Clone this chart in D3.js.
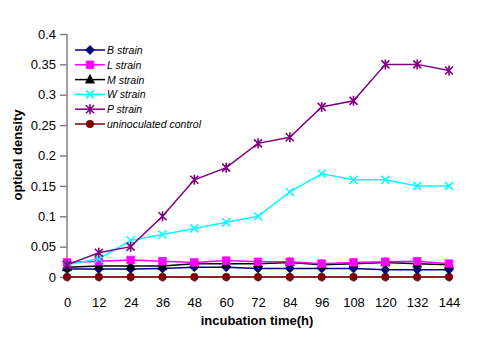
<!DOCTYPE html>
<html>
<head>
<meta charset="utf-8">
<script src="https://cdn.jsdelivr.net/npm/d3@7"></script>
<style>
  body { margin: 0; background: #fff; }
  svg { display: block; font-family: "Liberation Sans", Arial, sans-serif; }
</style>
</head>
<body>
<svg id="chart" width="496" height="342"></svg>
<script>
// data
const hours = [0, 12, 24, 36, 48, 60, 72, 84, 96, 108, 120, 132, 144];
const yTicks = [0, 0.05, 0.1, 0.15, 0.2, 0.25, 0.3, 0.35, 0.4];
const seriesNames = ['B strain', 'L strain', 'M strain', 'W strain', 'P strain', 'uninoculated control'];
const bStrain = [0.013, 0.013, 0.013, 0.014, 0.016, 0.016, 0.014, 0.014, 0.014, 0.014, 0.012, 0.012, 0.012];
const lStrain = [0.024, 0.026, 0.028, 0.026, 0.024, 0.027, 0.025, 0.025, 0.022, 0.024, 0.025, 0.026, 0.022];
const mStrain = [0.016, 0.018, 0.018, 0.018, 0.022, 0.022, 0.022, 0.024, 0.02, 0.022, 0.024, 0.022, 0.02];
const wStrain = [0.02, 0.03, 0.06, 0.07, 0.08, 0.09, 0.1, 0.14, 0.17, 0.16, 0.16, 0.15, 0.15];
const pStrain = [0.02, 0.04, 0.05, 0.1, 0.16, 0.18, 0.22, 0.23, 0.28, 0.29, 0.35, 0.35, 0.34];
const control = [0, 0, 0, 0, 0, 0, 0, 0, 0, 0, 0, 0, 0];

const colors = ['#000080', '#ff00ff', '#000000', '#00ffff', '#800080', '#800000'];
const markers = ['diamond', 'square', 'triangle', 'x', 'star', 'circle'];
const allSeries = [bStrain, lStrain, mStrain, wStrain, pStrain, control];

const svg = d3.select('#chart');
const x = d3.scaleLinear().domain([0, 144]).range([67, 449]);
const y = d3.scaleLinear().domain([0, 0.4]).range([277, 34]);

// marker shapes
function markerPath(type) {
    switch (type) {
        case 'diamond': return 'M0,-4.5L4.5,0L0,4.5L-4.5,0Z';
        case 'square': return 'M-3.8,-3.8H3.8V3.8H-3.8Z';
        case 'triangle': return 'M0,-5L4.5,3.5H-4.5Z';
        case 'x': return 'M-4,-4L4,4M4,-4L-4,4';
        case 'star': return 'M-4,-4L4,4M4,-4L-4,4M0,-5V5';
        case 'circle': return d3.symbol(d3.symbolCircle, 44)();
    }
}
function drawMarker(g, type, color) {
    const open = type === 'x' || type === 'star';
    g.append('path')
        .attr('d', markerPath(type))
        .attr('fill', open ? 'none' : color)
        .attr('stroke', color)
        .attr('stroke-width', open ? 1.6 : 0.8);
}

// axes
const yAxis = svg.append('g')
    .attr('transform', `translate(${x(0)},0)`)
    .call(d3.axisLeft(y).tickValues(yTicks).tickSize(7).tickPadding(4)
        .tickFormat(d => d3.format('')(+d.toFixed(2))));
const xAxis = svg.append('g')
    .attr('transform', `translate(0,${y(0)})`)
    .call(d3.axisBottom(x).tickValues(hours).tickSize(5).tickPadding(16));
[yAxis, xAxis].forEach(a => {
    a.select('.domain').attr('stroke', '#808080').attr('stroke-width', 1.5);
    a.selectAll('.tick line').attr('stroke', '#808080').attr('stroke-width', 1.5);
    a.selectAll('.tick text').attr('font-size', 13).attr('fill', '#000')
        .attr('font-family', '"Liberation Sans", Arial, sans-serif');
});
yAxis.select('.domain').attr('d', `M0,${y(0.4)}V${y(0)}`);
xAxis.select('.domain').attr('d', `M${x(0)},0H${x(144)}`);

// lines and markers (control first so it sits at the bottom)
const line = d3.line().x((d, i) => x(hours[i])).y(d => y(d));
const order = [5, 0, 2, 1, 3, 4];
order.forEach(k => {
    svg.append('path')
        .datum(allSeries[k])
        .attr('d', line)
        .attr('fill', 'none')
        .attr('stroke', colors[k])
        .attr('stroke-width', 1.5);
    allSeries[k].forEach((v, i) => {
        const g = svg.append('g').attr('transform', `translate(${x(hours[i])},${y(v)})`);
        drawMarker(g, markers[k], colors[k]);
    });
});

// axis titles
svg.append('text')
    .attr('x', 257).attr('y', 325)
    .attr('text-anchor', 'middle')
    .attr('font-size', 13).attr('font-weight', 'bold')
    .text('incubation time(h)');
svg.append('text')
    .attr('transform', 'translate(22,155) rotate(-90)')
    .attr('text-anchor', 'middle')
    .attr('font-size', 13).attr('font-weight', 'bold')
    .text('optical density');

// legend
const legend = svg.append('g').attr('transform', 'translate(75,50)');
seriesNames.forEach((name, k) => {
    const row = legend.append('g').attr('transform', `translate(0,${k * 14.8})`);
    row.append('line').attr('x1', 0).attr('x2', 30)
        .attr('stroke', colors[k]).attr('stroke-width', 1.5);
    drawMarker(row.append('g').attr('transform', 'translate(15,0)'), markers[k], colors[k]);
    row.append('text')
        .attr('x', 32).attr('y', 4)
        .attr('font-size', 10.5).attr('font-style', 'italic')
        .text(name);
});
</script>
</body>
</html>
